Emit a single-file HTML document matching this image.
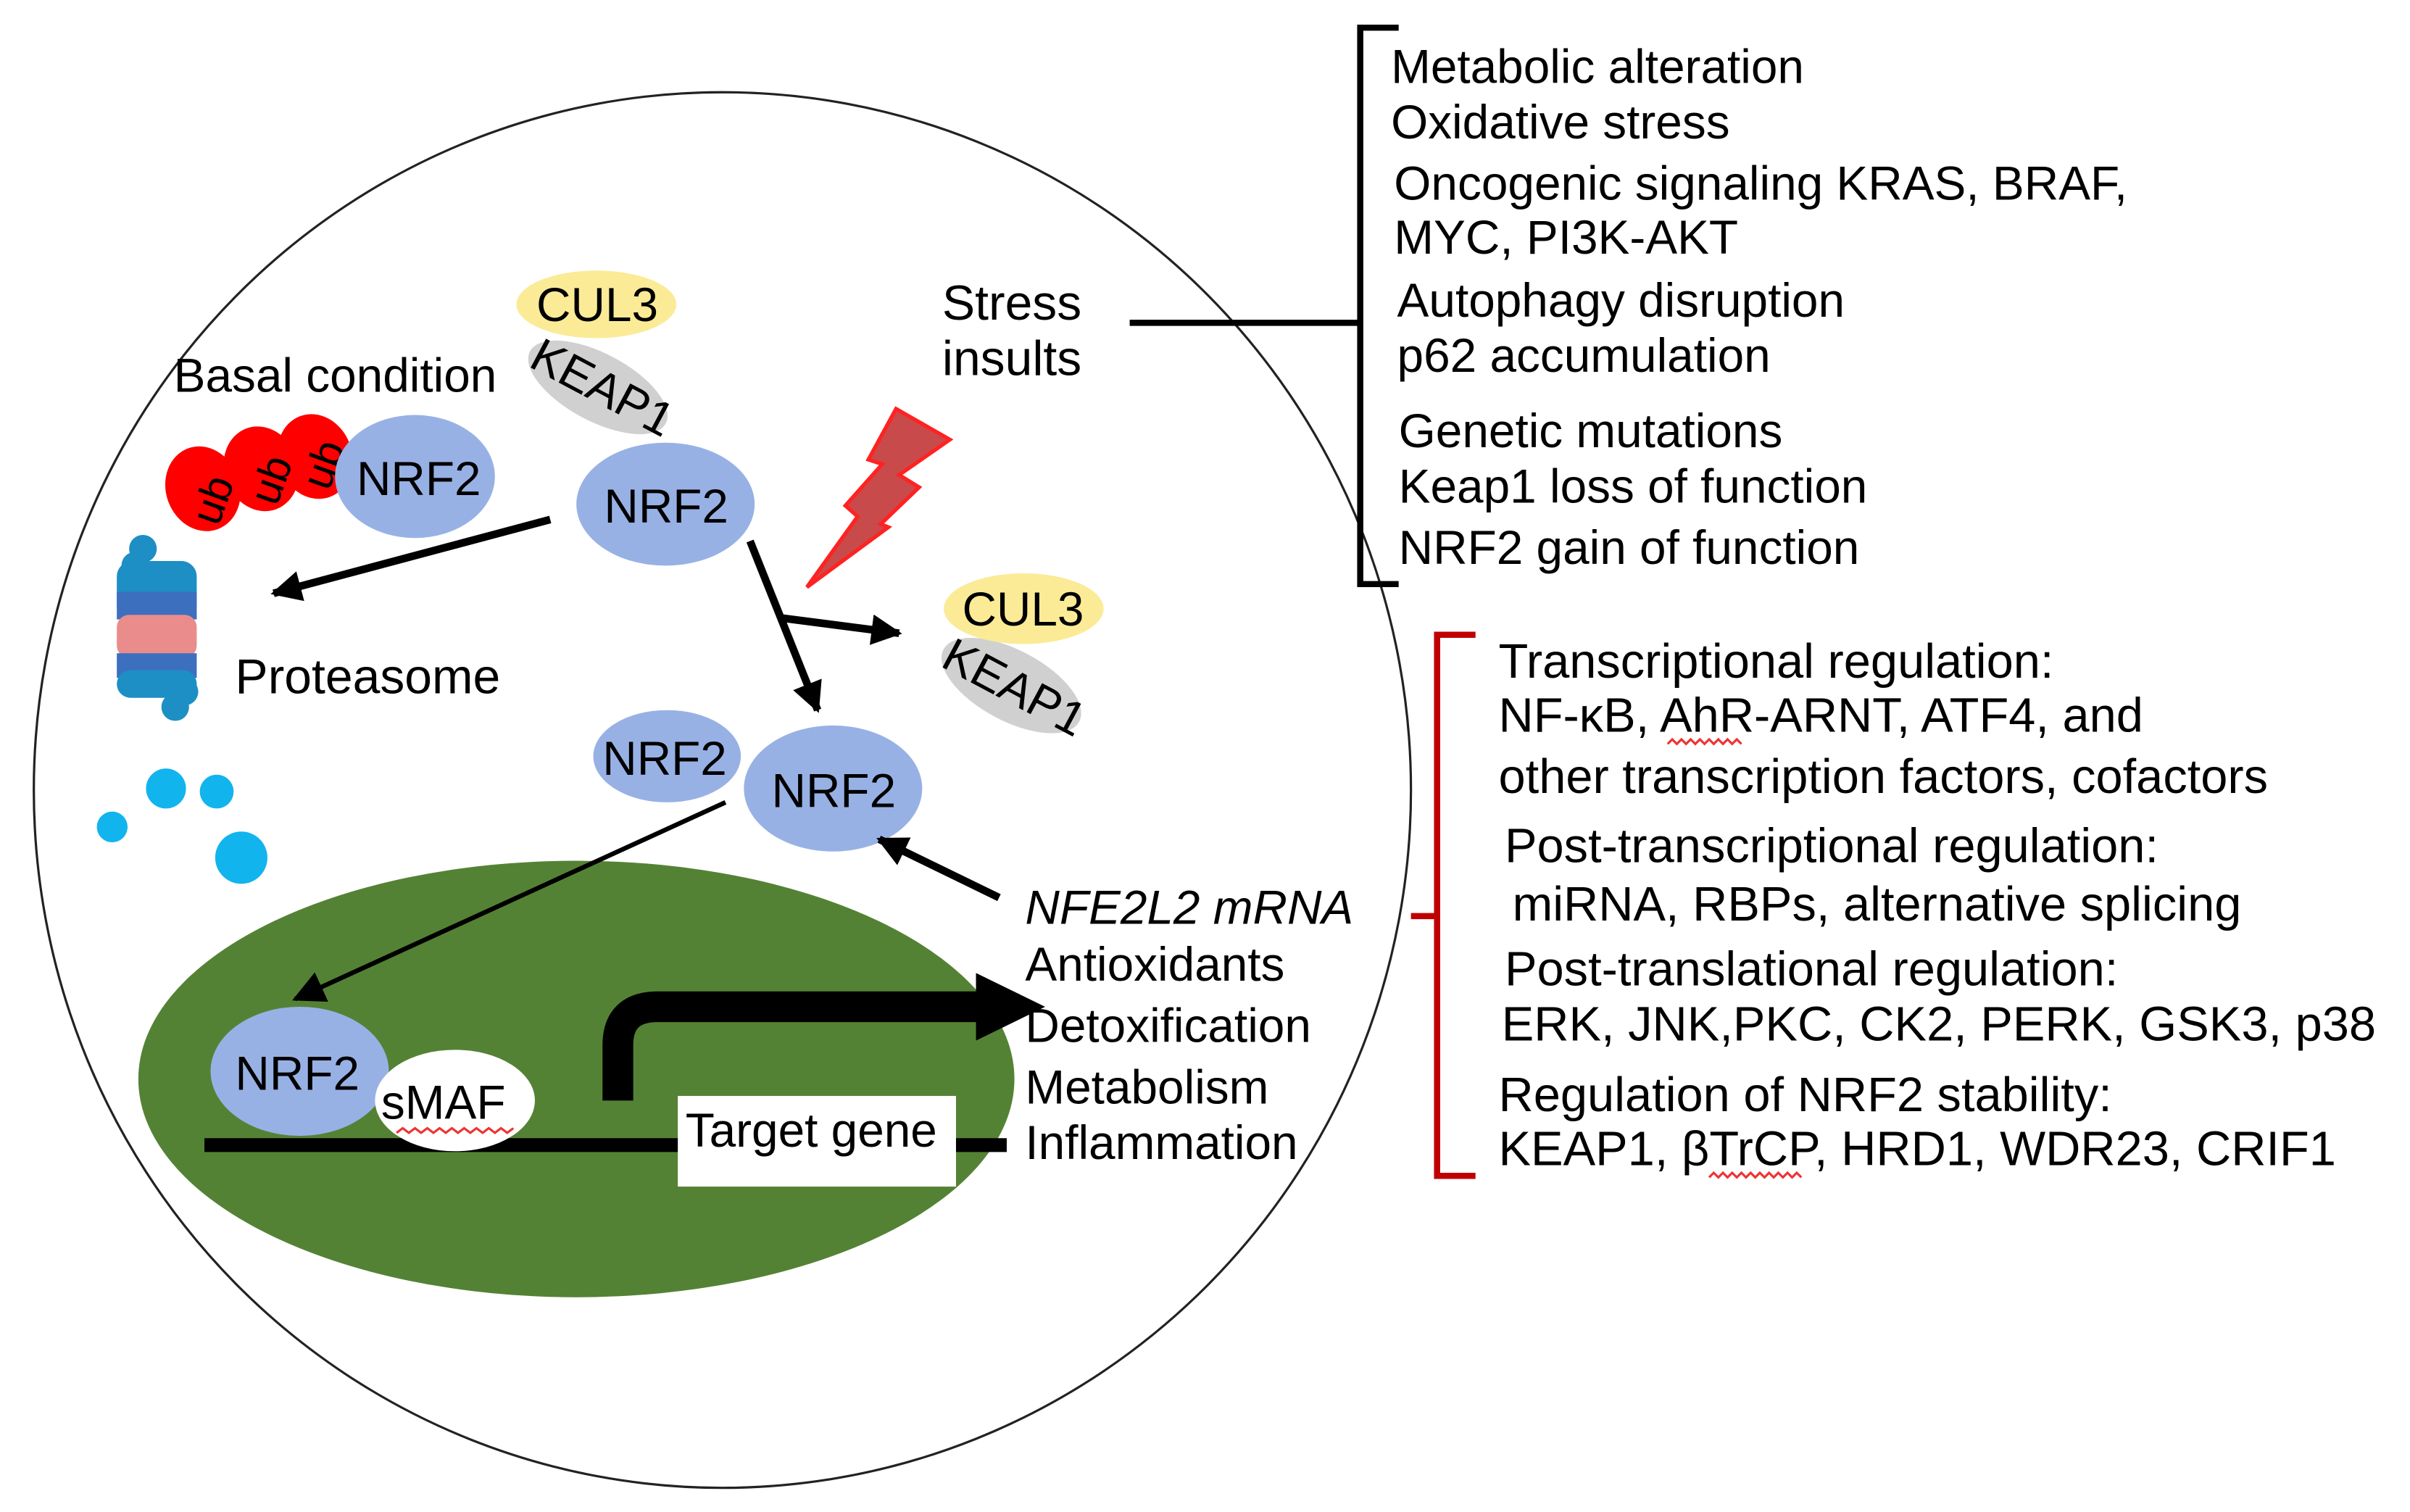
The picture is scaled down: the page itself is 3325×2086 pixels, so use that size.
<!DOCTYPE html>
<html><head><meta charset="utf-8"><style>
html,body{margin:0;padding:0;background:#fff;}
svg{display:block;}
text{font-family:"Liberation Sans",Arial,sans-serif;fill:#000;}
</style></head><body>
<svg width="3325" height="2086" viewBox="0 0 1568 983.7" xmlns="http://www.w3.org/2000/svg">
<defs>
<marker id="ah" viewBox="0 0 10 10" refX="9" refY="5" markerWidth="4" markerHeight="4" orient="auto" markerUnits="strokeWidth"><path d="M0,0 L10,5 L0,10 z" fill="#000"/></marker>
<marker id="ah2" viewBox="0 0 10 10" refX="9" refY="5" markerWidth="7" markerHeight="7" orient="auto" markerUnits="strokeWidth"><path d="M0,0 L10,5 L0,10 z" fill="#000"/></marker>
</defs>
<ellipse cx="470" cy="514" rx="448" ry="454" fill="none" stroke="#222" stroke-width="1.5"/>
<ellipse cx="375" cy="702" rx="285" ry="142" fill="#548235"/>

<ellipse cx="389" cy="252" rx="50" ry="22" transform="rotate(28 389 252)" fill="#d0d0d0"/>
<ellipse cx="388" cy="198" rx="52" ry="22" fill="#fbeb97"/>
<text x="349" y="209" font-size="31">CUL3</text>
<text x="343" y="238" font-size="31" transform="rotate(28 343 238)">KEAP1</text>

<text x="113" y="255" font-size="31">Basal condition</text>

<g fill="#f00">
<ellipse cx="132" cy="318" rx="24" ry="28" transform="rotate(-20 132 318)"/>
<ellipse cx="170" cy="305" rx="24" ry="28" transform="rotate(-20 170 305)"/>
<ellipse cx="205" cy="297" rx="24" ry="28" transform="rotate(-20 205 297)"/>
</g>
<text x="142" y="343" font-size="28" transform="rotate(-70 142 343)">ub</text>
<text x="180" y="330" font-size="28" transform="rotate(-70 180 330)">ub</text>
<text x="214" y="320" font-size="28" transform="rotate(-70 214 320)">ub</text>
<ellipse cx="270" cy="310" rx="52" ry="40" fill="#98b1e5"/>
<text x="232" y="322" font-size="31">NRF2</text>

<ellipse cx="433" cy="328" rx="58" ry="40" fill="#98b1e5"/>
<text x="393" y="340" font-size="31">NRF2</text>

<line x1="358" y1="338" x2="178" y2="386" stroke="#000" stroke-width="5" marker-end="url(#ah)"/>

<g>
<rect x="76" y="365" width="52" height="40" rx="10" fill="#1d8fc5"/>
<rect x="76" y="385" width="52" height="18" fill="#3d6fbf"/>
<rect x="76" y="400" width="52" height="28" rx="8" fill="#ea8c8c"/>
<rect x="76" y="425" width="52" height="16" fill="#3d6fbf"/>
<rect x="76" y="436" width="52" height="18" rx="9" fill="#1d8fc5"/>
<circle cx="93" cy="357" r="9" fill="#1d8fc5"/>
<circle cx="88" cy="368" r="9" fill="#1d8fc5"/>
<circle cx="114" cy="460" r="9" fill="#1d8fc5"/>
<circle cx="120" cy="450" r="9" fill="#1d8fc5"/>
</g>
<text x="153" y="451" font-size="32">Proteasome</text>

<g fill="#12b4ee">
<circle cx="108" cy="513" r="13"/>
<circle cx="141" cy="515" r="11"/>
<circle cx="73" cy="538" r="10"/>
<circle cx="157" cy="558" r="17"/>
</g>

<polygon points="583,266 618,286 585,309 598,317 573,341 578,343 525,382 558,336 550,329 574,302 565,299" fill="#c94a4a" stroke="#f22" stroke-width="2.5" stroke-linejoin="miter"/>

<text x="613" y="208" font-size="32">Stress</text>
<text x="613" y="244" font-size="32">insults</text>
<line x1="735" y1="210" x2="885" y2="210" stroke="#000" stroke-width="4"/>

<path d="M910,18 H885 V380 H910" fill="none" stroke="#000" stroke-width="4"/>

<line x1="488" y1="352" x2="532" y2="462" stroke="#000" stroke-width="5" marker-end="url(#ah)"/>
<line x1="508" y1="402" x2="585" y2="412" stroke="#000" stroke-width="5" marker-end="url(#ah)"/>

<ellipse cx="658" cy="446" rx="50" ry="23" transform="rotate(28 658 446)" fill="#d0d0d0"/>
<ellipse cx="666" cy="396" rx="52" ry="23" fill="#fbeb97"/>
<text x="626" y="407" font-size="31">CUL3</text>
<text x="611" y="433" font-size="31" transform="rotate(28 611 433)">KEAP1</text>

<ellipse cx="434" cy="492" rx="48" ry="30" fill="#98b1e5"/>
<text x="392" y="504" font-size="31">NRF2</text>
<ellipse cx="542" cy="513" rx="58" ry="41" fill="#98b1e5"/>
<text x="502" y="525" font-size="31">NRF2</text>

<line x1="472" y1="522" x2="192" y2="650" stroke="#000" stroke-width="3" marker-end="url(#ah2)"/>
<line x1="650" y1="584" x2="572" y2="546" stroke="#000" stroke-width="5" marker-end="url(#ah)"/>

<line x1="133" y1="745" x2="655" y2="745" stroke="#000" stroke-width="9"/>
<ellipse cx="195" cy="697" rx="58" ry="42" fill="#98b1e5"/>
<text x="153" y="709" font-size="31">NRF2</text>
<ellipse cx="296" cy="716" rx="52" ry="33" fill="#fff"/>
<text x="248" y="728" font-size="31">sMAF</text>
<path d="M258,737 l4,-3 4,3 4,-3 4,3 4,-3 4,3 4,-3 4,3 4,-3 4,3 4,-3 4,3 4,-3 4,3 4,-3 4,3 4,-3 4,3 4,-3" fill="none" stroke="#e33" stroke-width="1.5"/>
<rect x="441" y="713" width="181" height="59" fill="#fff"/>
<text x="446" y="746" font-size="31">Target gene</text>

<path d="M402,716 V680 Q402,655 428,655 H640" fill="none" stroke="#000" stroke-width="20"/>
<polygon points="635,633 680,655 635,677" fill="#000"/>

<g font-size="31">
<text x="667" y="601" font-style="italic">NFE2L2 mRNA</text>
<text x="667" y="638">Antioxidants</text>
<text x="667" y="678">Detoxification</text>
<text x="667" y="718">Metabolism</text>
<text x="667" y="754">Inflammation</text>
</g>

<g font-size="31">
<text x="905" y="54">Metabolic alteration</text>
<text x="905" y="90">Oxidative stress</text>
<text x="907" y="130">Oncogenic signaling KRAS, BRAF,</text>
<text x="907" y="165">MYC, PI3K-AKT</text>
<text x="909" y="206">Autophagy disruption</text>
<text x="909" y="242">p62 accumulation</text>
<text x="910" y="291">Genetic mutations</text>
<text x="910" y="327">Keap1 loss of function</text>
<text x="910" y="367">NRF2 gain of function</text>
</g>

<path d="M960,413 H935 V765 H960 M935,596 H918" fill="none" stroke="#c00000" stroke-width="4"/>
<g font-size="31.5">
<text x="975" y="441">Transcriptional regulation:</text>
<text x="975" y="476">NF-κB, AhR-ARNT, ATF4, and</text>
<text x="975" y="516">other transcription factors, cofactors</text>
<text x="979" y="561">Post-transcriptional regulation:</text>
<text x="984" y="599">miRNA, RBPs, alternative splicing</text>
<text x="979" y="641">Post-translational regulation:</text>
<text x="977" y="677">ERK, JNK,PKC, CK2, PERK, GSK3, p38</text>
<text x="975" y="723">Regulation of NRF2 stability:</text>
<text x="975" y="758">KEAP1, βTrCP, HRD1, WDR23, CRIF1</text>
</g>
<path d="M1085,484 l3,-3 3,3 3,-3 3,3 3,-3 3,3 3,-3 3,3 3,-3 3,3 3,-3 3,3 3,-3 3,3 3,-3 3,3" fill="none" stroke="#e33" stroke-width="1.5"/>
<path d="M1112,766 l3,-3 3,3 3,-3 3,3 3,-3 3,3 3,-3 3,3 3,-3 3,3 3,-3 3,3 3,-3 3,3 3,-3 3,3 3,-3 3,3 3,-3 3,3" fill="none" stroke="#e33" stroke-width="1.5"/>
</svg>
</body></html>
